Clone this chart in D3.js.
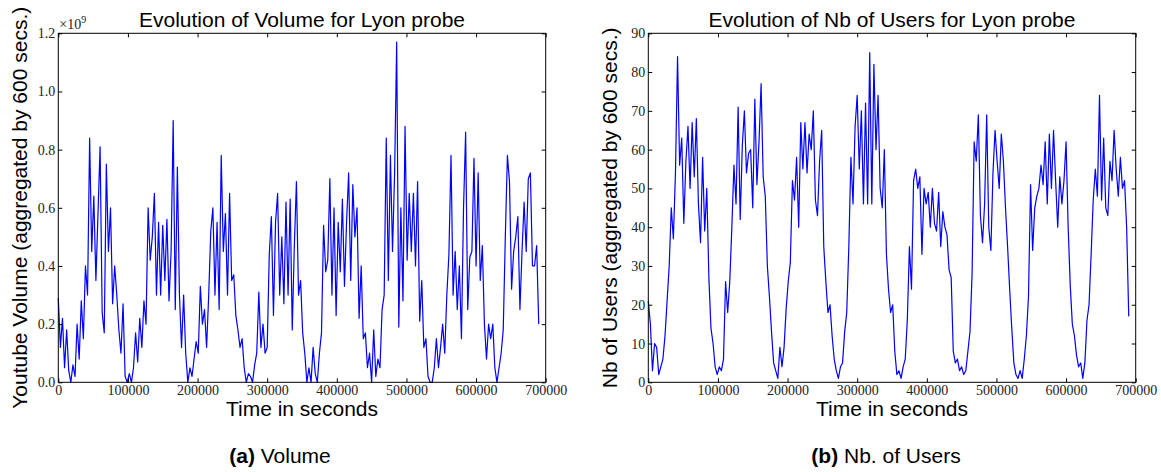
<!DOCTYPE html>
<html>
<head>
<meta charset="utf-8">
<script src="https://cdn.jsdelivr.net/npm/d3@7"></script>
<style>
  body { margin: 0; background: #fff; }
  .tick text { font-family: "Liberation Serif", "DejaVu Serif", serif; font-size: 14px; fill: #222; }
  .tick line { stroke: #000; stroke-width: 1; }
  .lbl { font-family: "Liberation Sans", Arial, Helvetica, sans-serif; fill: #000; }
</style>
</head>
<body>
<div id="chart"></div>
<script>
// samples, one every 3000 s (t = i * STEP)
var STEP = 3000;
// Youtube volume, in units of 1e9
var volume = [
  0.29, 0.12, 0.22, 0.05, 0.18, 0.04, 0.0, 0.06, 0.02, 0.2,
  0.08, 0.28, 0.15, 0.4, 0.3, 0.84, 0.45, 0.64, 0.35, 0.58,
  0.81, 0.24, 0.17, 0.75, 0.45, 0.6, 0.27, 0.4, 0.3, 0.18,
  0.1, 0.27, 0.02, 0.0, 0.03, 0.0, 0.05, 0.17, 0.07, 0.22,
  0.12, 0.28, 0.2, 0.6, 0.42, 0.5, 0.65, 0.3, 0.55, 0.3,
  0.54, 0.35, 0.56, 0.28, 0.45, 0.9, 0.25, 0.74, 0.3, 0.12,
  0.3, 0.1, 0.0, 0.05, 0.02, 0.08, 0.14, 0.1, 0.33, 0.2,
  0.25, 0.12, 0.3, 0.52, 0.6, 0.3, 0.55, 0.25, 0.78, 0.45,
  0.58, 0.3, 0.65, 0.35, 0.37, 0.23, 0.18, 0.12, 0.15, 0.05,
  0.0, 0.03, 0.02, 0.0, 0.06, 0.1, 0.31, 0.12, 0.2, 0.1,
  0.12, 0.44, 0.57, 0.23, 0.55, 0.65, 0.3, 0.5, 0.27, 0.62,
  0.3, 0.63, 0.18, 0.47, 0.69, 0.3, 0.35, 0.17, 0.1, 0.0,
  0.05, 0.0, 0.12, 0.03, 0.0, 0.1, 0.17, 0.54, 0.38, 0.42,
  0.7, 0.3, 0.6, 0.23, 0.55, 0.38, 0.63, 0.33, 0.55, 0.72,
  0.35, 0.68, 0.5, 0.6, 0.22, 0.4, 0.15, 0.17, 0.05, 0.1,
  0.0, 0.18, 0.02, 0.08, 0.05, 0.25, 0.3, 0.84, 0.35, 0.78,
  0.45, 0.72, 1.17, 0.19, 0.6, 0.28, 0.88, 0.42, 0.65, 0.45,
  0.65, 0.4, 0.69, 0.21, 0.35, 0.12, 0.15, 0.02, 0.0, 0.0,
  0.05, 0.15, 0.05, 0.12, 0.2, 0.1, 0.3, 0.44, 0.78, 0.3,
  0.45, 0.25, 0.4, 0.15, 0.6, 0.86, 0.25, 0.43, 0.45, 0.77,
  0.4, 0.72, 0.35, 0.47, 0.2, 0.08, 0.2, 0.15, 0.2, 0.05,
  0.0, 0.05, 0.1, 0.18, 0.5, 0.78, 0.69, 0.32, 0.45, 0.5,
  0.57, 0.25, 0.45, 0.62, 0.45, 0.7, 0.72, 0.4, 0.4, 0.47,
  0.2
];
// number of users
var users = [
  21, 15, 3, 10, 9, 2, 4, 6, 12, 21,
  30, 45, 37, 54, 84, 56, 63, 41, 57, 66,
  50, 67, 53, 68, 46, 36, 58, 39, 50, 27,
  14, 10, 4, 2, 4, 3, 6, 26, 18, 26,
  40, 56, 46, 71, 42, 61, 70, 54, 59, 60,
  45, 73, 51, 62, 77, 53, 48, 30, 22, 13,
  5, 3, 1, 9, 4, 9, 19, 26, 31, 52,
  47, 58, 40, 67, 55, 67, 54, 64, 60, 70,
  47, 43, 57, 65, 35, 26, 18, 20, 12, 6,
  3, 1, 4, 5, 13, 18, 35, 58, 46, 66,
  74, 55, 70, 46, 72, 46, 85, 46, 82, 60,
  74, 50, 45, 60, 33, 24, 18, 20, 8, 2,
  3, 1, 4, 6, 16, 35, 24, 52, 55, 50,
  53, 33, 50, 46, 49, 40, 50, 41, 39, 49,
  35, 44, 40, 38, 29, 27, 8, 5, 6, 3,
  4, 2, 3, 8, 13, 28, 62, 57, 69, 43,
  36, 46, 69, 40, 34, 54, 65, 57, 50, 64,
  57, 45, 35, 24, 14, 5, 2, 1, 3, 1,
  6, 12, 22, 51, 34, 45, 48, 50, 56, 51,
  62, 46, 64, 50, 65, 52, 40, 53, 46, 52,
  62, 40, 25, 15, 12, 7, 4, 5, 1, 5,
  16, 20, 33, 47, 55, 48, 74, 47, 63, 45,
  43, 57, 52, 65, 55, 48, 58, 50, 52, 40,
  17
];
var xTicks = [0, 100000, 200000, 300000, 400000, 500000, 600000, 700000];
var volumeTicks = [0, 0.2, 0.4, 0.6, 0.8, 1.0, 1.2];
var userTicks = [0, 10, 20, 30, 40, 50, 60, 70, 80, 90];

var W = 1161, H = 472;
var svg = d3.select("#chart").append("svg").attr("width", W).attr("height", H);

var top0 = 33.3;
var pw = 487.4, ph = 349; // plot area size

function drawPanel(opts) {
  var g = svg.append("g").attr("transform", "translate(" + opts.left + "," + top0 + ")");
  var x = d3.scaleLinear().domain([0, 700000]).range([0, pw]);
  var y = d3.scaleLinear().domain(opts.yDomain).range([ph, 0]);

  var line = d3.line()
    .x(function(d, i) { return x(i * STEP); })
    .y(function(d) { return y(d); });

  g.append("path")
    .datum(opts.values)
    .attr("fill", "none")
    .attr("stroke", "#0000ff")
    .attr("stroke-width", 1.2)
    .attr("stroke-linejoin", "round")
    .attr("d", line);

  // inward ticks on all four sides, labels bottom/left only
  var xb = g.append("g").attr("transform", "translate(0," + ph + ")")
    .call(d3.axisBottom(x).tickValues(xTicks).tickFormat(d3.format("d")).tickSizeInner(-4).tickSizeOuter(0).tickPadding(3));
  var xt = g.append("g")
    .call(d3.axisTop(x).tickValues(xTicks).tickFormat("").tickSizeInner(-4).tickSizeOuter(0));
  var yl = g.append("g")
    .call(d3.axisLeft(y).tickValues(opts.yTicks).tickFormat(opts.yFormat).tickSizeInner(-4).tickSizeOuter(0).tickPadding(3));
  var yr = g.append("g").attr("transform", "translate(" + pw + ",0)")
    .call(d3.axisRight(y).tickValues(opts.yTicks).tickFormat("").tickSizeInner(-4).tickSizeOuter(0));
  [xb, xt, yl, yr].forEach(function(a) { a.select(".domain").remove(); });

  g.append("rect")
    .attr("width", pw).attr("height", ph)
    .attr("fill", "none").attr("stroke", "#000").attr("stroke-width", 1);

  g.append("text").attr("class", "lbl")
    .attr("x", pw / 2).attr("y", -6)
    .attr("text-anchor", "middle").attr("font-size", 21)
    .text(opts.title);

  g.append("text").attr("class", "lbl")
    .attr("x", pw / 2).attr("y", 416 - top0)
    .attr("text-anchor", "middle").attr("font-size", 21)
    .text("Time in seconds");

  g.append("text").attr("class", "lbl")
    .attr("transform", "translate(" + opts.yLabelX + "," + ph / 2 + ") rotate(-90)")
    .attr("text-anchor", "middle").attr("font-size", 21)
    .text(opts.yLabel);

  var cap = svg.append("text").attr("class", "lbl")
    .attr("x", opts.capX).attr("y", 463)
    .attr("text-anchor", "middle").attr("font-size", 21);
  cap.append("tspan").attr("font-weight", "bold").text(opts.capTag);
  cap.append("tspan").text(" " + opts.capText);

  return g;
}

var gA = drawPanel({
  left: 58.3,
  values: volume,
  yDomain: [0, 1.2],
  yTicks: volumeTicks,
  yFormat: d3.format(".1f"),
  title: "Evolution of Volume for Lyon probe",
  yLabel: "Youtube Volume (aggregated by 600 secs.)",
  yLabelX: -31,
  capX: 280,
  capTag: "(a)",
  capText: "Volume"
});
var mult = gA.append("text")
  .attr("x", 1).attr("y", -4)
  .attr("font-family", "'Liberation Serif', 'DejaVu Serif', serif")
  .attr("font-size", 14).attr("fill", "#222");
mult.append("tspan").text("\u00d710");
mult.append("tspan").attr("font-size", 10).attr("dy", -6).text("9");

drawPanel({
  left: 648.3,
  values: users,
  yDomain: [0, 90],
  yTicks: userTicks,
  yFormat: d3.format("d"),
  title: "Evolution of Nb of Users for Lyon probe",
  yLabel: "Nb of Users (aggregated by 600 secs.)",
  yLabelX: -31,
  capX: 886,
  capTag: "(b)",
  capText: "Nb. of Users"
});
</script>
</body>
</html>
